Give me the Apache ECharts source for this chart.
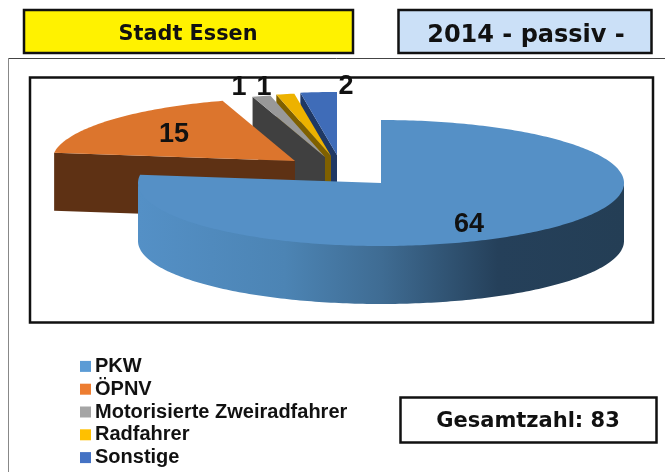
<!DOCTYPE html>
<html>
<head>
<meta charset="utf-8">
<style>html,body{margin:0;padding:0;background:#fff}#c{width:665px;height:472px}</style>
<script src="https://cdn.jsdelivr.net/npm/echarts@6/dist/echarts.min.js"></script>
</head>
<body>
<div id="c"></div>
<script>
// ---- data ----
const categories = ['PKW', 'ÖPNV', 'Motorisierte Zweiradfahrer', 'Radfahrer', 'Sonstige'];
const values = [64, 15, 1, 1, 2];
const cityTitle = 'Stadt Essen';
const yearTitle = '2014 - passiv -';
const totalLabel = 'Gesamtzahl: ';

// ---- style / layout ----
const legendColors = ['#5B9BD5', '#ED7D31', '#A5A5A5', '#FFC000', '#4472C4'];
const topColors = ['#5590C6', '#DC752D', '#999999', '#EDB200', '#3F6CB8'];
const sideColors = ['#243E55', '#5E3114', '#404040', '#7F6000', '#1F3864'];
const apexes = [[381, 183], [295, 161], [325, 157], [331, 156], [337, 155]];
const labelPos = [[469, 225], [174, 135], [239, 88], [264, 88], [346, 87]];
const RX = 243, RY = 63, DEPTH = 58;
const total = values.reduce((a, b) => a + b, 0);

const chart = echarts.init(document.getElementById('c'), null, {renderer: 'canvas'});

function rim(c, a) { return [c[0] + RX * Math.sin(a), c[1] - RY * Math.cos(a)]; }
function arc(c, a0, a1) {
  const pts = [], n = Math.max(4, Math.ceil(Math.abs(a1 - a0) * 60));
  for (let i = 0; i <= n; i++) pts.push(rim(c, a0 + (a1 - a0) * i / n));
  return pts;
}
const down = p => [p[0], p[1] + DEPTH];
function poly(points, fill, z2) {
  return {type: 'polygon', z2: z2, shape: {points: points}, style: {fill: fill}, silent: true};
}

function makeRender(idx) {
  return function () {
    let before = 0;
    for (let i = 0; i < idx; i++) before += values[i];
    const a0 = before / total * 2 * Math.PI;
    const a1 = (before + values[idx]) / total * 2 * Math.PI;
    const c = apexes[idx];
    const children = [];
    // cut face that looks towards the viewer (start edge of the slice)
    if (idx > 0) {
      const r0 = rim(c, a0);
      children.push(poly([r0, c, down(c), down(r0)], sideColors[idx], 1));
    } else {
      // outer wall of the big slice: visible from right extreme through front to left extreme
      const top = arc(c, Math.PI / 2, Math.PI * 1.5);
      const bottom = top.map(down).reverse();
      const tucked = top.map(p => [p[0], p[1] - 2]); // slides under the top face, no seam
      const grad = new echarts.graphic.LinearGradient(139, 0, 624, 0, [
        {offset: 0, color: '#5490C6'},
        {offset: 0.3, color: '#4C84B4'},
        {offset: 0.5, color: '#3F6C93'},
        {offset: 0.74, color: '#25405A'},
        {offset: 1, color: '#243E55'}
      ], true);
      children.push(poly(tucked.concat(bottom), grad, 1));
    }
    children.push(poly([c].concat(arc(c, a0, a1)), topColors[idx], 2));
    children.push({
      type: 'text', z2: 5, silent: true,
      style: {
        x: labelPos[idx][0], y: labelPos[idx][1], text: String(values[idx]),
        fill: '#111', align: 'center', verticalAlign: 'middle',
        font: 'bold 27px "Liberation Sans"'
      }
    });
    return {type: 'group', children: children};
  };
}

const order = [5, 4, 3, 2, 1];
const series = categories.map((name, i) => ({
  type: 'custom',
  name: name,
  coordinateSystem: 'none',
  z: 10 + order[i],
  animation: false,
  silent: true,
  itemStyle: {color: legendColors[i]},
  data: [[values[i]]],
  renderItem: makeRender(i)
}));

function box(x, y, w, h, fill, lw) {
  return {type: 'rect', z: 1, shape: {x: x, y: y, width: w, height: h},
    style: {fill: fill, stroke: '#111', lineWidth: lw}, silent: true};
}
function boxText(x, y, text, size) {
  return {type: 'text', z: 2, x: x, y: y, silent: true,
    style: {text: text, fill: '#111', align: 'center', verticalAlign: 'middle',
      font: 'bold ' + size + 'px "DejaVu Sans"'}};
}

chart.setOption({
  animation: false,
  backgroundColor: '#fff',
  legend: {
    orient: 'vertical', left: 80, top: 355,
    icon: 'rect', itemWidth: 11, itemHeight: 11, itemGap: 0,
    padding: 0, selectedMode: false,
    data: categories,
    textStyle: {color: '#111', fontFamily: '"Liberation Sans"', fontWeight: 'bold',
      fontSize: 20, lineHeight: 22.8, padding: [0, 0, 0, -1]}
  },
  graphic: {elements: [
    {type: 'line', z: 0, shape: {x1: 8, y1: 58.5, x2: 665, y2: 58.5}, style: {stroke: '#444', lineWidth: 1}, silent: true},
    {type: 'line', z: 0, shape: {x1: 8.5, y1: 58, x2: 8.5, y2: 472}, style: {stroke: '#888', lineWidth: 1}, silent: true},
    box(24, 10, 329, 43, '#FFF200', 2.5),
    box(398.5, 10, 253, 43, '#CBE0F7', 2.5),
    box(30, 77.5, 623, 245, '#fff', 2.5),
    box(400.5, 397.5, 256, 45, '#fff', 2.5),
    boxText(188, 34.5, cityTitle, 20.8),
    boxText(526, 36, yearTitle, 24),
    boxText(528, 422, totalLabel + total, 21)
  ]},
  series: series
});
</script>
</body>
</html>
